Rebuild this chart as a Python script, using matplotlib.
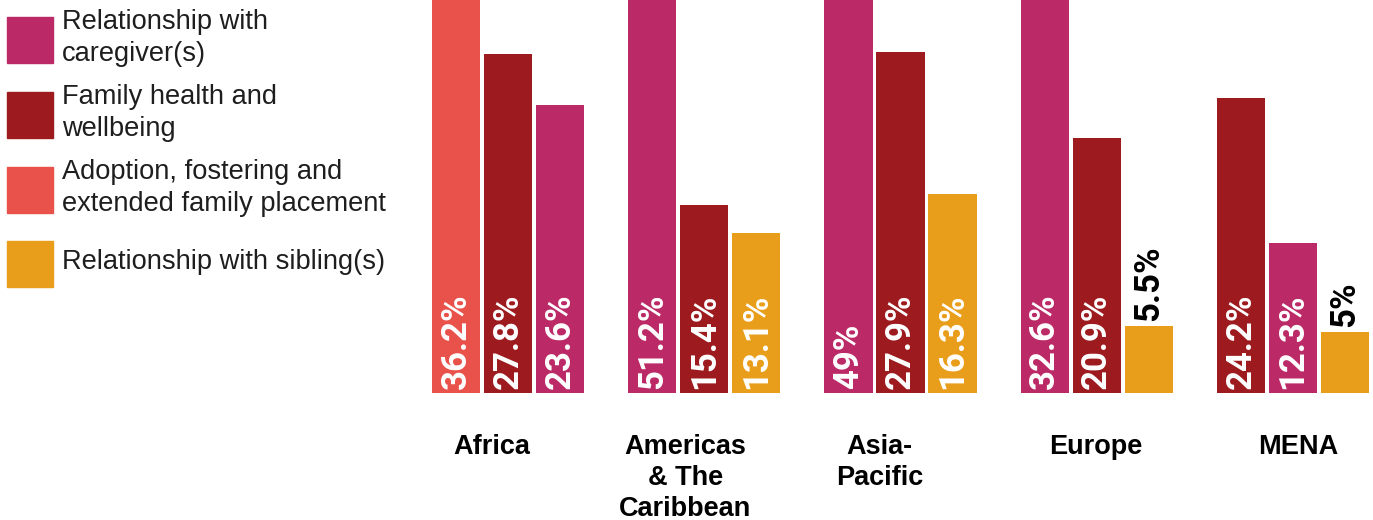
import matplotlib.pyplot as plt
from matplotlib.patches import Rectangle

# share of responses per region, by theme
regions = ["Africa", "Americas\n& The\nCaribbean", "Asia-\nPacific", "Europe", "MENA"]
themes = [
    "Relationship with\ncaregiver(s)",
    "Family health and\nwellbeing",
    "Adoption, fostering and\nextended family placement",
    "Relationship with sibling(s)",
]
caregiver = [23.6, 51.2, 49.0, 32.6, 12.3]
family_health = [27.8, 15.4, 27.9, 20.9, 24.2]
adoption = [36.2, None, None, None, None]
sibling = [None, 13.1, 16.3, 5.5, 5.0]

colors = ["#BB2A67", "#9D1B1E", "#E9524A", "#E99E1B"]
series = [caregiver, family_health, adoption, sibling]

fig = plt.figure(figsize=(13.73, 5.2), dpi=100)
W, H = 1373, 520

# plot area in pixels: bars run from x=432 to 1369, baseline at y=393
ax = fig.add_axes([432 / W, 1 - 393 / H, (1369 - 432) / W, 393 / H])
ax.set_ylim(0, 32.2)
pitch = 0.265
width = 0.245
ax.set_xlim(-pitch - width / 2, len(regions) - 1 + pitch + width / 2)
ax.axis("off")
px_x = (1369 - 432) / (2 * pitch + width + len(regions) - 1)  # pixels per x unit
px_y = 393 / 32.2                                               # pixels per y unit

# small nudges for the region names (pixels)
name_shift = [-16, -19, -21, -1, 5]

val_font = ["Roboto", "DejaVu Sans"]
for g in range(len(regions)):
    # the themes present in this region, largest first
    bars = [(s[g], k) for k, s in enumerate(series) if s[g] is not None]
    bars.sort(key=lambda b: -b[0])
    for j, (v, k) in enumerate(bars):
        x = g + (j - 1) * pitch
        ax.bar(x, v, width=width, color=colors[k], zorder=2)
        label = f"{v:g}%"
        if v < 8:
            ax.text(x, v + 5 / px_y, label, rotation=90, ha="center", va="bottom",
                    color="black", fontsize=25, fontweight="bold", family=val_font)
        else:
            ax.text(x, 4 / px_y, label, rotation=90, ha="center", va="bottom",
                    color="white", fontsize=25, fontweight="bold", family=val_font,
                    zorder=3, clip_on=True)
    ax.text(g + name_shift[g] / px_x, -41 / px_y, regions[g], ha="center", va="top",
            fontsize=19.5, fontweight="bold", linespacing=1.26,
            family=["Liberation Sans", "DejaVu Sans"])

# legend drawn at the left
leg_top = [17, 92, 167, 241]
for k, name in enumerate(themes):
    y0 = leg_top[k]
    fig.add_artist(Rectangle((7 / W, 1 - (y0 + 46) / H), 46 / W, 46 / H,
                             transform=fig.transFigure, color=colors[k]))
    fig.text(62 / W, 1 - (y0 + 21) / H, name, ha="left", va="center",
             fontsize=19.6, color="#1e1e1e", linespacing=1.32,
             family=["Liberation Sans", "DejaVu Sans"])

fig.savefig("out.png", dpi=100)
